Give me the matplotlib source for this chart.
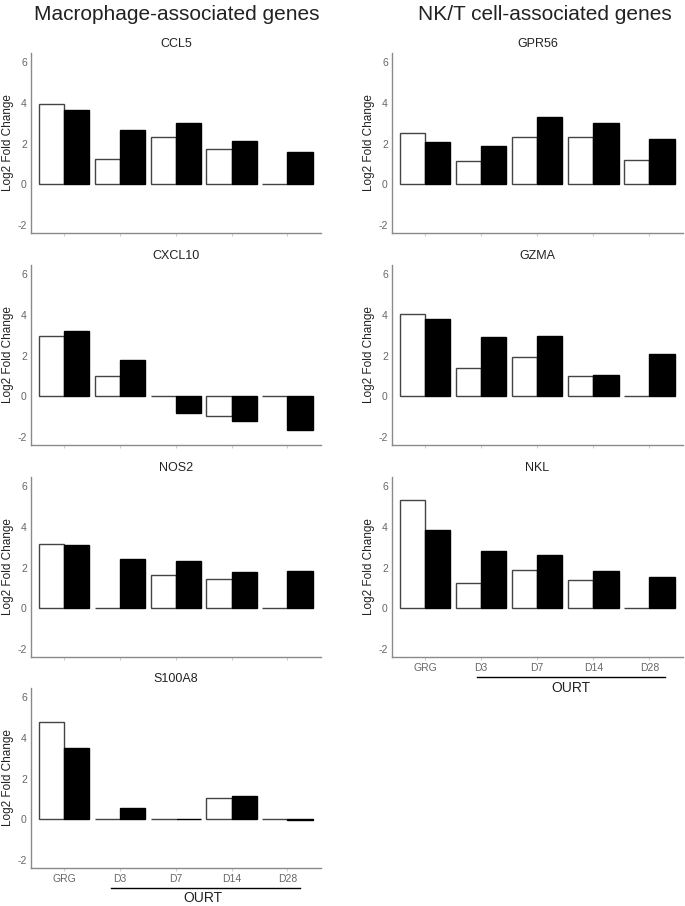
import numpy as np
import matplotlib.pyplot as plt

plt.rcParams['font.family'] = ['Liberation Sans', 'DejaVu Sans']
plt.rcParams['axes.unicode_minus'] = False

groups = ["GRG", "D3", "D7", "D14", "D28"]

# left column: macrophage-associated genes
ccl5_white = [3.92, 1.25, 2.3, 1.75, 0.0]
ccl5_black = [3.65, 2.65, 3.0, 2.1, 1.6]
cxcl10_white = [2.95, 1.0, 0.0, -0.95, 0.0]
cxcl10_black = [3.2, 1.8, -0.85, -1.2, -1.65]
nos2_white = [3.15, 0.0, 1.65, 1.45, 0.0]
nos2_black = [3.1, 2.4, 2.3, 1.8, 1.85]
s100a8_white = [4.8, 0.0, 0.0, 1.05, 0.0]
s100a8_black = [3.5, 0.55, 0.0, 1.15, -0.05]

# right column: NK/T cell-associated genes
gpr56_white = [2.5, 1.15, 2.3, 2.3, 1.18]
gpr56_black = [2.05, 1.88, 3.32, 3.02, 2.2]
gzma_white = [4.05, 1.4, 1.95, 1.0, 0.0]
gzma_black = [3.8, 2.92, 2.95, 1.05, 2.05]
nkl_white = [5.3, 1.25, 1.9, 1.4, 0.0]
nkl_black = [3.85, 2.8, 2.62, 1.82, 1.52]

left_genes = ["CCL5", "CXCL10", "NOS2", "S100A8"]
left_white = [ccl5_white, cxcl10_white, nos2_white, s100a8_white]
left_black = [ccl5_black, cxcl10_black, nos2_black, s100a8_black]
right_genes = ["GPR56", "GZMA", "NKL"]
right_white = [gpr56_white, gzma_white, nkl_white]
right_black = [gpr56_black, gzma_black, nkl_black]

W, H = 685, 906
fig = plt.figure(figsize=(W / 100, H / 100), dpi=100)

gray = "#666666"
spine = "#8a8a8a"


def px_axes(x0, y_top, x1, y_bot):
    return fig.add_axes([x0 / W, 1 - y_bot / H, (x1 - x0) / W, (y_bot - y_top) / H])


def panel(ax, gene, white, black, show_labels):
    x = np.arange(len(groups))
    w = 0.45
    ax.bar(x - w / 2, white, w, color="white", edgecolor="#444444", linewidth=1.0)
    ax.bar(x + w / 2, black, w, color="black", edgecolor="black", linewidth=1.0)
    ax.set_xlim(-0.59, 4.6)
    ax.set_ylim(-2.4, 6.45)
    ax.set_yticks([-2, 0, 2, 4, 6])
    ax.set_xticks(x)
    if show_labels:
        ax.set_xticklabels(groups)
    else:
        ax.set_xticklabels([])
    ax.tick_params(axis="x", length=2, color="#cccccc", labelsize=7.5, labelcolor=gray, pad=2)
    ax.tick_params(axis="y", length=0, labelsize=7.5, labelcolor=gray, pad=3)
    for s in ["top", "right"]:
        ax.spines[s].set_visible(False)
    for s in ["left", "bottom"]:
        ax.spines[s].set_color(spine)
        ax.spines[s].set_linewidth(1.0)
    ax.set_title(gene, fontsize=9, pad=4, color="#222222")
    ax.set_ylabel("Log2 Fold Change", fontsize=8.5, color="#222222")
    ax.yaxis.set_label_coords(-0.058, 0.5)


row_tops = [53, 265, 477, 688]
row_bots = [233, 445, 657, 868]

for i, gene in enumerate(left_genes):
    ax = px_axes(31, row_tops[i], 321, row_bots[i])
    panel(ax, gene, left_white[i], left_black[i], i == len(left_genes) - 1)

for i, gene in enumerate(right_genes):
    ax = px_axes(392, row_tops[i], 683, row_bots[i])
    panel(ax, gene, right_white[i], right_black[i], i == len(right_genes) - 1)

# OURT brackets
fig.add_artist(plt.Line2D([111 / W, 300 / W], [1 - 888 / H, 1 - 888 / H], color="black", linewidth=1.0))
fig.text(203 / W, 1 - 898 / H, "OURT", ha="center", va="center", fontsize=10, color="#222222")
fig.add_artist(plt.Line2D([477 / W, 665 / W], [1 - 677 / H, 1 - 677 / H], color="black", linewidth=1.0))
fig.text(571 / W, 1 - 688 / H, "OURT", ha="center", va="center", fontsize=10, color="#222222")

# column headers
fig.text(177 / W, 1 - 15 / H, "Macrophage-associated genes", ha="center", va="center", fontsize=15, color="#222222")
fig.text(545 / W, 1 - 15 / H, "NK/T cell-associated genes", ha="center", va="center", fontsize=15, color="#222222")

fig.savefig("out.png", dpi=100)
